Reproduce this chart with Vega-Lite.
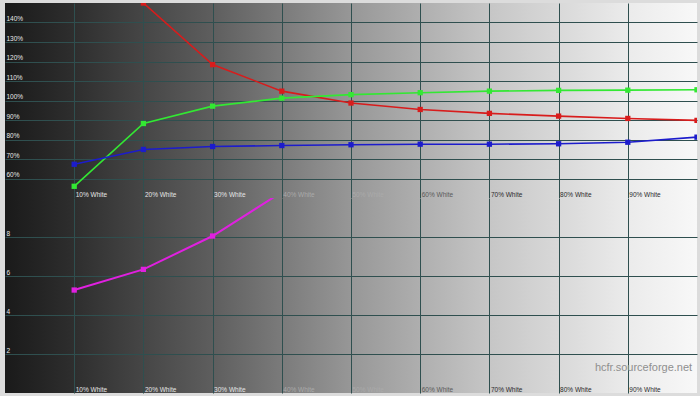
{
  "$schema": "https://vega.github.io/schema/vega-lite/v6.json",
  "background": "#dcdcdc",
  "padding": {"left": 5, "top": 3, "right": 3, "bottom": 3},
  "spacing": 0,
  "datasets": {
    "rgb": [
      {"level": 10, "series": "Red", "value": 190},
      {"level": 20, "series": "Red", "value": 150},
      {"level": 30, "series": "Red", "value": 118.4},
      {"level": 40, "series": "Red", "value": 104.8},
      {"level": 50, "series": "Red", "value": 98.7},
      {"level": 60, "series": "Red", "value": 95.4},
      {"level": 70, "series": "Red", "value": 93.4},
      {"level": 80, "series": "Red", "value": 92.0},
      {"level": 90, "series": "Red", "value": 90.8},
      {"level": 100, "series": "Red", "value": 89.8},
      {"level": 10, "series": "Green", "value": 56.0},
      {"level": 20, "series": "Green", "value": 88.2},
      {"level": 30, "series": "Green", "value": 97.1},
      {"level": 40, "series": "Green", "value": 101.2},
      {"level": 50, "series": "Green", "value": 103.0},
      {"level": 60, "series": "Green", "value": 104.0},
      {"level": 70, "series": "Green", "value": 104.8},
      {"level": 80, "series": "Green", "value": 105.2},
      {"level": 90, "series": "Green", "value": 105.3},
      {"level": 100, "series": "Green", "value": 105.5},
      {"level": 10, "series": "Blue", "value": 67.3},
      {"level": 20, "series": "Blue", "value": 74.9},
      {"level": 30, "series": "Blue", "value": 76.4},
      {"level": 40, "series": "Blue", "value": 76.9},
      {"level": 50, "series": "Blue", "value": 77.3},
      {"level": 60, "series": "Blue", "value": 77.6},
      {"level": 70, "series": "Blue", "value": 77.6},
      {"level": 80, "series": "Blue", "value": 77.8},
      {"level": 90, "series": "Blue", "value": 78.6},
      {"level": 100, "series": "Blue", "value": 81.2}
    ],
    "de": [
      {"level": 10, "value": 5.28},
      {"level": 20, "value": 6.34},
      {"level": 30, "value": 8.05},
      {"level": 40, "value": 10.3}
    ],
    "credit": [
      {"label": "hcfr.sourceforge.net"}
    ]
  },
  "config": {
    "font": "Liberation Sans",
    "view": {
      "stroke": null,
      "fill": {
        "gradient": "linear", "x1": 0, "x2": 1, "y1": 0, "y2": 0,
        "stops": [
          {"offset": 0, "color": "#1a1a1a"},
          {"offset": 0.1, "color": "#2e2e2e"},
          {"offset": 0.3, "color": "#5e5e5e"},
          {"offset": 0.5, "color": "#979797"},
          {"offset": 0.7, "color": "#c6c6c6"},
          {"offset": 0.9, "color": "#ebebeb"},
          {"offset": 1, "color": "#f8f8f8"}
        ]
      }
    },
    "axis": {
      "domain": false,
      "ticks": false,
      "tickSize": 0,
      "grid": true,
      "gridColor": "#2f4f4f",
      "gridOpacity": 1,
      "gridWidth": 1,
      "title": null,
      "labelFontSize": 6.5,
      "labelFont": "Liberation Sans",
      "labelOverlap": false,
      "labelFlush": false,
      "labelBound": false
    }
  },
  "vconcat": [
    {
      "width": 692,
      "height": 195,
      "layer": [
        {
          "data": {"name": "rgb"},
          "mark": {"type": "line", "clip": true, "strokeWidth": 1.6},
          "encoding": {
            "x": {
              "field": "level", "type": "quantitative",
              "scale": {"domain": [0, 100], "nice": false},
              "axis": {
                "values": [10, 20, 30, 40, 50, 60, 70, 80, 90],
                "labelExpr": "datum.value + '% White'",
                "labelAlign": "left",
                "labelBaseline": "bottom",
                "labelPadding": -1,
                "labelOffset": 1,
                "labelColor": {"condition": [
                  {"test": "datum.value <= 30", "value": "#e6e6e6"},
                  {"test": "datum.value <= 50", "value": "#aaaaaa"},
                  {"test": "datum.value <= 60", "value": "#5a5a5a"}
                ], "value": "#2a2a2a"}
              }
            },
            "y": {
              "field": "value", "type": "quantitative",
              "scale": {"domain": [50, 150], "nice": false, "zero": false},
              "axis": {
                "values": [60, 70, 80, 90, 100, 110, 120, 130, 140],
                "tickCount": 9,
                "labelExpr": "datum.value + '%'",
                "labelAlign": "left",
                "labelBaseline": "bottom",
                "labelPadding": -1,
                "labelOffset": -1,
                "labelColor": "#e6e6e6"
              }
            },
            "color": {
              "field": "series", "type": "nominal",
              "scale": {"domain": ["Red", "Green", "Blue"], "range": ["#d81c1c", "#33e833", "#1c1ccc"]},
              "legend": null
            }
          }
        },
        {
          "data": {"name": "rgb"},
          "mark": {"type": "point", "shape": "square", "filled": true, "size": 28, "opacity": 1, "clip": true},
          "encoding": {
            "x": {"field": "level", "type": "quantitative"},
            "y": {
              "field": "value", "type": "quantitative",
              "axis": {
                "values": [60, 70, 80, 90, 100, 110, 120, 130, 140],
                "tickCount": 9,
                "labelExpr": "datum.value + '%'",
                "labelAlign": "left",
                "labelBaseline": "bottom",
                "labelPadding": -1,
                "labelOffset": -1,
                "labelColor": "#e6e6e6"
              }
            },
            "color": {"field": "series", "type": "nominal", "legend": null}
          }
        },
        {
          "mark": {"type": "rule", "color": "#f0f0f0", "strokeDash": [2, 2], "strokeWidth": 1},
          "encoding": {
            "y": {
              "datum": 100, "type": "quantitative",
              "axis": {
                "values": [60, 70, 80, 90, 100, 110, 120, 130, 140],
                "tickCount": 9,
                "labelExpr": "datum.value + '%'",
                "labelAlign": "left",
                "labelBaseline": "bottom",
                "labelPadding": -1,
                "labelOffset": -1,
                "labelColor": "#e6e6e6"
              }
            }
          }
        }
      ]
    },
    {
      "width": 692,
      "height": 195,
      "layer": [
        {
          "data": {"name": "de"},
          "mark": {"type": "line", "clip": true, "strokeWidth": 2, "color": "#e020e0"},
          "encoding": {
            "x": {
              "field": "level", "type": "quantitative",
              "scale": {"domain": [0, 100], "nice": false},
              "axis": {
                "values": [10, 20, 30, 40, 50, 60, 70, 80, 90],
                "labelExpr": "datum.value + '% White'",
                "labelAlign": "left",
                "labelBaseline": "bottom",
                "labelPadding": -1,
                "labelOffset": 1,
                "labelColor": {"condition": [
                  {"test": "datum.value <= 30", "value": "#e6e6e6"},
                  {"test": "datum.value <= 50", "value": "#aaaaaa"},
                  {"test": "datum.value <= 60", "value": "#5a5a5a"}
                ], "value": "#2a2a2a"}
              }
            },
            "y": {
              "field": "value", "type": "quantitative",
              "scale": {"domain": [0, 10], "nice": false},
              "axis": {
                "values": [2, 4, 6, 8],
                "labelAlign": "left",
                "labelBaseline": "bottom",
                "labelPadding": -1,
                "labelOffset": -1,
                "labelColor": "#e6e6e6"
              }
            }
          }
        },
        {
          "data": {"name": "de"},
          "mark": {"type": "point", "shape": "square", "filled": true, "size": 28, "opacity": 1, "color": "#e020e0", "clip": true},
          "encoding": {
            "x": {"field": "level", "type": "quantitative"},
            "y": {"field": "value", "type": "quantitative"}
          }
        },
        {
          "data": {"name": "credit"},
          "mark": {"type": "text", "align": "right", "baseline": "middle", "fontSize": 11, "fill": "#8f8f8f", "font": "Liberation Sans"},
          "encoding": {
            "x": {"datum": 99.3, "type": "quantitative"},
            "y": {"datum": 1.3, "type": "quantitative"},
            "text": {"field": "label", "type": "nominal"}
          }
        }
      ]
    }
  ]
}
